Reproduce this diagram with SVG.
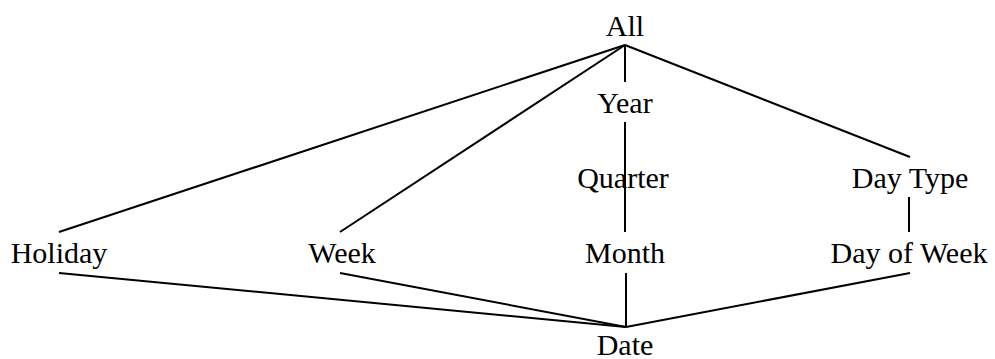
<svg xmlns="http://www.w3.org/2000/svg" width="995" height="359" viewBox="0 0 995 359">
<style>
text{font-family:"Liberation Serif","Times New Roman",serif;font-size:30px;fill:#000;text-anchor:middle}
.c line{stroke:#000;stroke-width:2;fill:none}
</style>
<rect width="995" height="359" fill="#fff"/>
<g class="c" id="connectors">
<line x1="625" y1="45" x2="625" y2="82"/>
<line x1="625" y1="122" x2="625" y2="232"/>
<line x1="625" y1="45" x2="59" y2="232"/>
<line x1="625" y1="45" x2="340" y2="232"/>
<line x1="625" y1="45" x2="910" y2="157"/>
<line x1="909" y1="197" x2="909" y2="232"/>
<line x1="626" y1="273" x2="626" y2="327"/>
<line x1="59" y1="273" x2="626" y2="327"/>
<line x1="340" y1="273" x2="626" y2="327"/>
<line x1="910" y1="273" x2="626" y2="327"/>
</g>
<g id="all"><text x="625" y="36">All</text></g>
<g id="year"><text x="625" y="113">Year</text></g>
<g id="quarter"><text x="623" y="188">Quarter</text></g>
<g id="daytype"><text x="910" y="188">Day Type</text></g>
<g id="holiday"><text x="59" y="263">Holiday</text></g>
<g id="week"><text x="342" y="263">Week</text></g>
<g id="month"><text x="625" y="263">Month</text></g>
<g id="dayofweek"><text x="909" y="263">Day of Week</text></g>
<g id="date"><text x="625" y="355">Date</text></g>
</svg>
